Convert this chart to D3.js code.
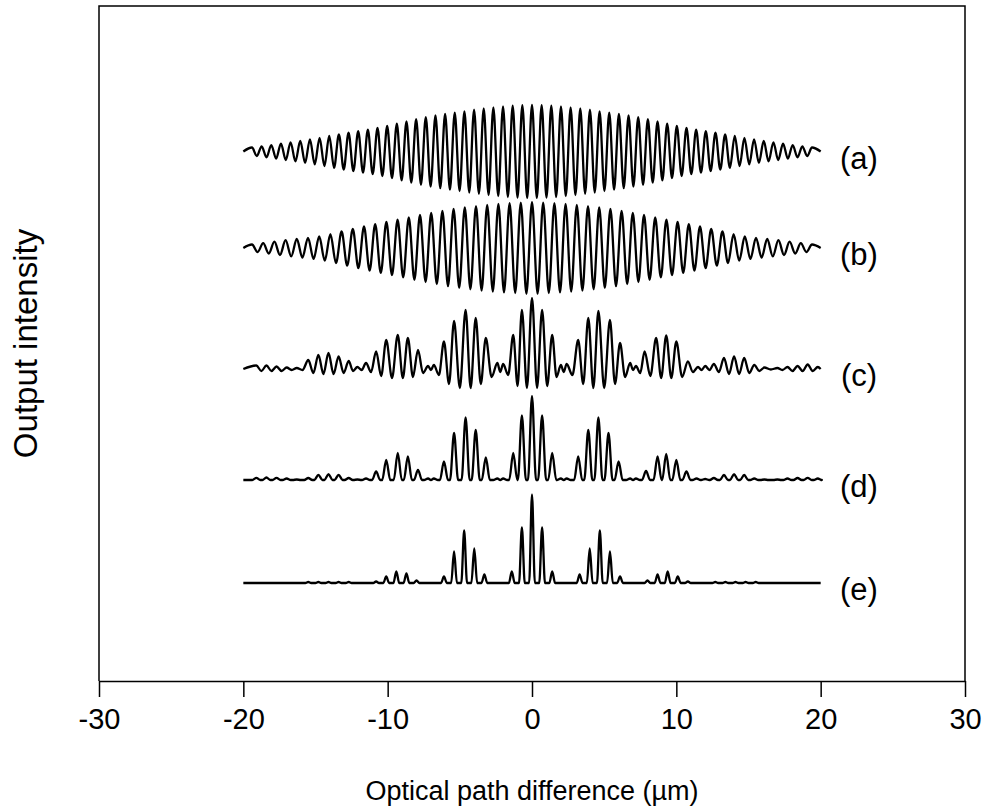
<!DOCTYPE html>
<html>
<head>
<meta charset="utf-8">
<script src="https://cdn.jsdelivr.net/npm/d3@7"></script>
<style>
  html, body { margin: 0; padding: 0; background: #fff; }
  svg { display: block; }
  text { font-family: "Liberation Sans", Arial, Helvetica, sans-serif; fill: #000; }
</style>
</head>
<body>
<div id="chart"></div>
<script>
// ---- data (x in µm, heights in arbitrary intensity units) ----
const tickValues = [-30, -20, -10, 0, 10, 20, 30];
const traceLabels = ['(a)', '(b)', '(c)', '(d)', '(e)'];
const traceSpan = [-20, 20];

// (a) single-line fringes: crest height of each fringe, and the dip after it
const peakRangeA = [-19.4, 19.4];
const peaksA = [4,5.2,6.4,7.9,9.2,10.7,12.2,13.7,15.5,17.2,18.8,20.4,21.9,23.5,25.5,27.8,30,32.3,34.3,36,37.5,38.9,40.2,41.8,43,44.2,45.2,45.9,46.3,
  46.5,
  46.3,45.9,45.2,44.2,43,41.8,40.2,38.9,37.5,36,34.3,32.3,30,27.8,25.5,23.5,21.9,20.4,18.8,17.2,15.5,13.7,12.2,10.7,9.2,7.9,6.4,5.2,4];
const dipsA = [-4.6,-5.8,-7.1,-8.5,-9.9,-11.4,-12.9,-14.6,-16.3,-18,-19.6,-21.1,-22.7,-24.5,-26.6,-28.9,-31.1,-33.3,-35.1,-36.7,-38.2,-39.5,-41,-42.4,-43.6,-44.7,-45.5,-46.1,-46.4,
  -46.4,-46.1,-45.5,-44.7,-43.6,-42.4,-41,-39.5,-38.2,-36.7,-35.1,-33.3,-31.1,-28.9,-26.6,-24.5,-22.7,-21.1,-19.6,-18,-16.3,-14.6,-12.9,-11.4,-9.9,-8.5,-7.1,-5.8,-4.6];

// (b) second line, longer fringe period
const peakRangeB = [-19.4, 19.4];
const peaksB = [3.5,4.8,6.3,7.8,9,10.2,11.6,13.8,16.5,19,21.5,23.8,26,28.3,30.6,33,35,37.2,39.2,40.7,41.9,43.1,44,44.8,45.4,
  45.8,
  45.4,44.8,44,43.1,41.9,40.7,39.2,37.2,35,33,30.6,28.3,26,23.8,21.5,19,16.5,13.8,11.6,10.2,9,7.8,6.3,4.8,3.5];
const dipsB = [-4.1,-5.5,-7,-8.4,-9.6,-10.9,-12.7,-15.1,-17.7,-20.2,-22.6,-24.9,-27.1,-29.4,-31.8,-34,-36.1,-38.2,-39.9,-41.3,-42.5,-43.5,-44.4,-45.1,-45.6,
  -45.6,-45.1,-44.4,-43.5,-42.5,-41.3,-39.9,-38.2,-36.1,-34,-31.8,-29.4,-27.1,-24.9,-22.6,-20.2,-17.7,-15.1,-12.7,-10.9,-9.6,-8.4,-7,-5.5,-4.1];

// (c) two lines together: fringe positions, crest heights, dips between crests
const posC = [-19.1,-18.4,-17.7,-17.0,-16.3,-15.5,-14.8,-14.1,-13.4,-12.7,-12.1,-11.5,-10.8,-10.1,-9.3,-8.6,-7.9,-7.2,-6.8,-6.1,
  -5.4,-4.6,-3.9,-3.2,-2.4,-2.0,-1.3,-0.7,0,0.7,1.4,2.0,2.4,3.2,3.9,4.6,5.4,6.1,6.8,7.2,
  7.8,8.6,9.3,10.0,10.8,11.5,12.0,12.6,13.3,14.0,14.7,15.4,16.1,17.0,17.7,18.4,19.1,19.8];
const peaksC = [3.5,3.5,2.5,1.5,1, 9,14,16,12.5,8, 2,6,17.5,29,34, 31,19,3,4,27.5,
  48,59,51,31,6, 5,34,59,71,59, 34,4,5,29,51, 58,49,26,6,3,
  17.5,31,33.5,27.5,7.5, 2,3,5,11,12.5, 11,4,1.5,1,2, 3,4.5,2];
const dipsC = [-2,-2,-2,-1,-1, -4,-5,-5,-4,-2, -1,-3,-7,-9,-9, -8,-4,-1,-6,-15,
  -19,-19,-15,-8,-3, -6,-17,-19,-19,-17, -8,-3,-6,-15,-19, -19,-15,-8,-1,-4,
  -7,-9,-9,-8,-3, -1,-1,-3,-5,-5, -4,-2,-0.5,-1,-2, -2,-2];

// (d) three lines: sharper fringes sitting on the baseline
const posD = [-19.1,-18.4,-17.7,-17.0,-16.3,-15.5,-14.8,-14.1,-13.4,-12.7,-12.1,-11.5,-10.8,-10.1,-9.3,-8.6,-7.9,-7.2,-6.8,-6.1,
  -5.4,-4.6,-3.9,-3.2,-2.4,-2.0,-1.3,-0.7,0,0.7,1.4,2.0,2.4,3.2,3.9,4.6,5.3,6.0,6.8,7.2,
  7.9,8.7,9.3,10.0,10.7,11.4,12.0,12.6,13.3,14.0,14.7,15.4,16.1,17.0,17.7,18.4,19.1,19.8];
const peaksD = [2.2,2.5,2.2,1.5,0.5, 2,5.2,5.8,5.2,2, 0.5,1.5,8.5,20,27, 23.5,10,1.5,1.5,18.5,
  47,62.5,50,22.5,1.5, 1.5,27,64.5,84,64.5, 27,1.5,1.5,23.5,50, 62.5,47,18.5,1.5,1.5,
  9,23.5,26,20,8.5, 1.5,1,2,5,5.8, 5,1.5,0.5,0.5,1.5, 2,2.2,1.5];

// (e) many lines: isolated narrow peaks
const posE = [-15.5,-14.8,-14.1,-13.4,-12.7, -10.8,-10.1,-9.4,-8.7,-8.0, -6.1,-5.4,-4.7,-4.0,-3.3,
  -1.4,-0.7,0,0.7,1.4, 3.3,4.0,4.7,5.4,6.1, 8.0,8.7,9.4,10.1,10.8, 12.7,13.4,14.1,14.8,15.5];
const peaksE = [1,1,1,1,1, 1.5,6.5,11.5,9.5,2.5, 6.5,31.5,52.5,34.5,8.5,
  11.5,55.5,88.5,55.5,11.5, 8.5,34.5,52.5,31.5,6.5, 2.5,8.5,11.5,6.5,1.5, 1,1,1,1,1];

// ---- layout ----
const W = 988, H = 812;
const plot = { left: 99, right: 965, top: 6, bottom: 681 };

const svg = d3.select('#chart').append('svg')
  .attr('width', W)
  .attr('height', H);

const x = d3.scaleLinear().domain([-30, 30]).range([plot.left, plot.right]);
// one intensity scale for the whole panel; traces are stacked with offsets
const y = d3.scaleLinear().domain([0, plot.bottom - plot.top]).range([plot.bottom, plot.top]);
const offsets = [529.5, 433, 312, 201, 98];
const peakHalfWidth = [null, null, null, 0.28, 0.2];

// positions of the evenly spaced fringes of (a) and (b)
const fringeA = d3.scaleLinear().domain([0, peaksA.length - 1]).range(peakRangeA);
const fringeB = d3.scaleLinear().domain([0, peaksB.length - 1]).range(peakRangeB);

const traces = [
  { pos: peaksA.map((d, i) => fringeA(i)), peaks: peaksA, dips: dipsA },
  { pos: peaksB.map((d, i) => fringeB(i)), peaks: peaksB, dips: dipsB },
  { pos: posC, peaks: peaksC, dips: dipsC },
  { pos: posD, peaks: peaksD, dips: null },
  { pos: posE, peaks: peaksE, dips: null }
];

// crest/dip vertices; a half width keeps the baseline flat between narrow peaks
function vertices(t, hw) {
  const pts = [[traceSpan[0], 0]];
  const n = t.pos.length;
  if (hw) pts.push([t.pos[0] - hw, 0]);
  for (let i = 0; i < n; i++) {
    pts.push([t.pos[i], t.peaks[i]]);
    if (i < n - 1) {
      const dip = t.dips ? t.dips[i] : 0;
      const gap = t.pos[i + 1] - t.pos[i];
      if (hw && gap > 2 * hw + 0.02) {
        pts.push([t.pos[i] + hw, dip], [t.pos[i + 1] - hw, dip]);
      } else {
        pts.push([(t.pos[i] + t.pos[i + 1]) / 2, dip]);
      }
    }
  }
  if (hw) pts.push([t.pos[n - 1] + hw, 0]);
  pts.push([traceSpan[1], 0]);
  return pts;
}

traces.forEach((t, k) => {
  const line = d3.line()
    .x(d => x(d[0]))
    .y(d => y(offsets[k] + d[1]))
    .curve(d3.curveMonotoneX);
  svg.append('path')
    .datum(vertices(t, peakHalfWidth[k]))
    .attr('d', line)
    .attr('fill', 'none')
    .attr('stroke', '#000')
    .attr('stroke-width', 2.3)
    .attr('stroke-linejoin', 'round');

  svg.append('text')
    .attr('x', 859)
    .attr('y', y(offsets[k]) + 17)
    .attr('text-anchor', 'middle')
    .style('font-size', '31px')
    .text(traceLabels[k]);
});

// frame (left, top, right)
svg.append('path')
  .attr('d', `M${plot.left},${plot.bottom}V${plot.top}H${plot.right}V${plot.bottom}`)
  .attr('fill', 'none')
  .attr('stroke', '#000')
  .attr('stroke-width', 1.5);

const xAxis = svg.append('g')
  .attr('transform', `translate(0,${plot.bottom})`)
  .call(d3.axisBottom(x)
    .tickValues(tickValues)
    .tickSize(16)
    .tickSizeOuter(0)
    .tickPadding(11)
    .tickFormat(d => String(d)));
xAxis.select('.domain').attr('stroke-width', 1.5);
xAxis.selectAll('.tick line').attr('stroke-width', 1.5);
xAxis.selectAll('.tick text')
  .style('font-size', '29px')
  .style('font-family', '"Liberation Sans", Arial, sans-serif');

svg.append('text')
  .attr('x', x(0))
  .attr('y', 800)
  .attr('text-anchor', 'middle')
  .style('font-size', '27px')
  .text('Optical path difference (\u00b5m)');

svg.append('text')
  .attr('transform', `translate(37,${(plot.top + plot.bottom) / 2}) rotate(-90)`)
  .attr('text-anchor', 'middle')
  .style('font-size', '33px')
  .text('Output intensity');
</script>
</body>
</html>
